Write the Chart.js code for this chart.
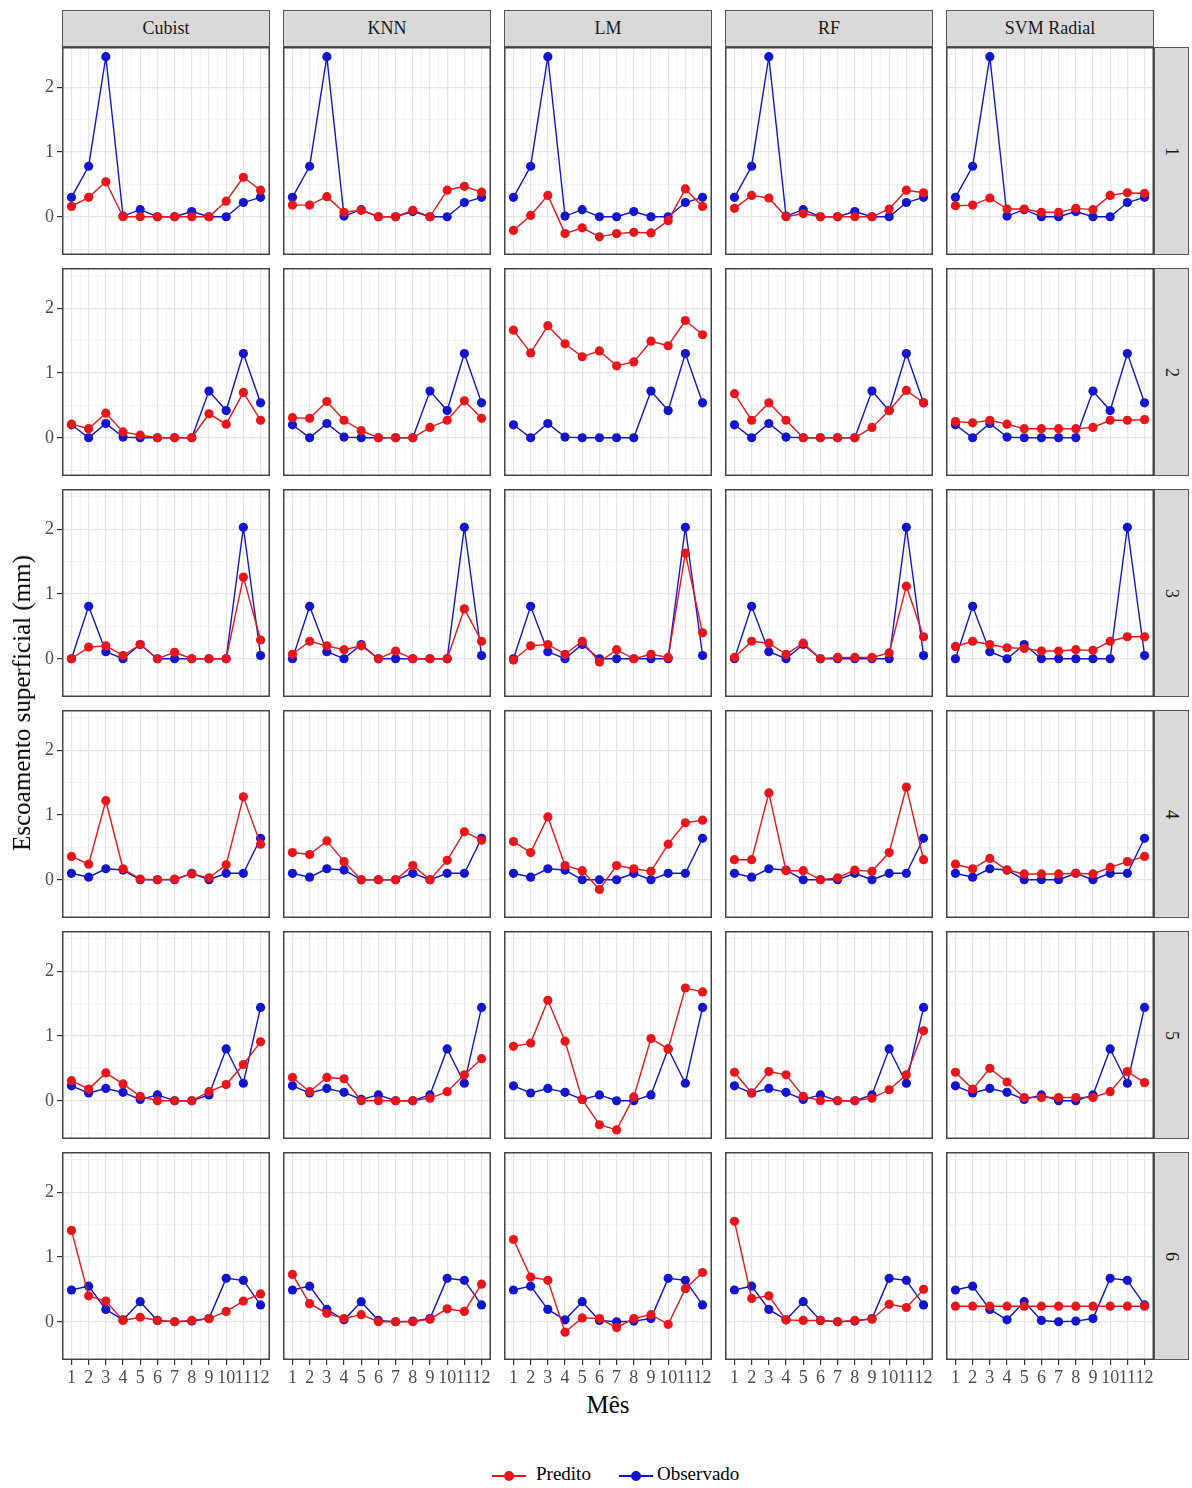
<!DOCTYPE html>
<html><head><meta charset="utf-8">
<script src="https://cdn.jsdelivr.net/npm/chart.js@4.4.1/dist/chart.umd.min.js"></script>
<style>
body{margin:0;background:#fff;width:1192px;height:1488px;position:relative;overflow:hidden;font-family:"Liberation Serif","DejaVu Serif",serif;color:#000;}
.wrap{position:absolute;}
.strip{position:absolute;background:#d9d9d9;border:1px solid #555;box-sizing:border-box;display:flex;align-items:center;justify-content:center;font-size:18px;color:#1a1a1a;}
.vt{writing-mode:vertical-rl;}
.title{position:absolute;font-size:25px;white-space:nowrap;}
.legtxt{position:absolute;font-size:19px;white-space:nowrap;top:1463px;}
.key{position:absolute;width:34px;height:20px;top:1466px;}
.key .ln{position:absolute;left:0;right:0;top:9px;height:1.5px;}
.key .dt{position:absolute;left:12px;top:5px;width:10px;height:10px;border-radius:50%;}
</style>
</head><body>
<script>
// ---------- data ----------
const months = [1,2,3,4,5,6,7,8,9,10,11,12];
const models = ["Cubist","KNN","LM","RF","SVM Radial"];
const rowLabels = ["1","2","3","4","5","6"];
const seriesNames = ["Predito","Observado"];
const yMajorTicks = [0,1,2];

// observed runoff per row (same in every model column)
const obs1 = [0.30,0.78,2.47,0.01,0.11,0,0,0.08,0,0,0.22,0.30];
const obs2 = [0.20,0,0.22,0.01,0,0,0,0,0.72,0.42,1.30,0.54];
const obs3 = [0,0.81,0.11,0,0.22,0,0,0,0,0,2.03,0.05];
const obs4 = [0.10,0.04,0.17,0.15,0,0,0,0.10,0,0.10,0.10,0.64];
const obs5 = [0.23,0.12,0.19,0.13,0.02,0.09,0,0,0.09,0.80,0.27,1.44];
const obs6 = [0.49,0.55,0.19,0.03,0.31,0.02,0,0.01,0.05,0.67,0.64,0.26];

// predicted, one array per row
const predCubist = [
  [0.16,0.30,0.54,0,0,0,0,0,0,0.24,0.61,0.41],
  [0.21,0.14,0.38,0.09,0.04,0,0,0,0.37,0.21,0.70,0.27],
  [0,0.18,0.20,0.05,0.22,0,0.10,0,0,0,1.26,0.29],
  [0.36,0.24,1.22,0.17,0.01,0,0.01,0.09,0.03,0.23,1.28,0.55],
  [0.31,0.18,0.43,0.26,0.07,0,0,0,0.14,0.25,0.56,0.91],
  [1.41,0.40,0.32,0.02,0.07,0.02,0,0.02,0.05,0.16,0.32,0.43]
];
const predKNN = [
  [0.18,0.18,0.31,0.07,0.10,0,0,0.10,0,0.41,0.47,0.38],
  [0.31,0.30,0.56,0.27,0.11,0,0,0,0.16,0.27,0.57,0.30],
  [0.07,0.27,0.20,0.14,0.20,0,0.12,0,0,0,0.77,0.27],
  [0.42,0.39,0.60,0.28,0,0,0,0.22,0,0.30,0.74,0.61],
  [0.36,0.14,0.36,0.34,0,0,0,0,0.04,0.14,0.40,0.65],
  [0.73,0.28,0.13,0.05,0.11,0,0,0,0.04,0.20,0.16,0.58]
];
const predLM = [
  [-0.21,0.02,0.33,-0.26,-0.17,-0.31,-0.26,-0.24,-0.25,-0.06,0.43,0.16],
  [1.66,1.31,1.73,1.45,1.25,1.34,1.11,1.17,1.49,1.42,1.81,1.59],
  [-0.02,0.20,0.22,0.07,0.27,-0.05,0.14,0,0.07,0.02,1.63,0.40],
  [0.59,0.42,0.97,0.22,0.14,-0.15,0.22,0.17,0.13,0.55,0.88,0.92],
  [0.84,0.89,1.55,0.92,0.02,-0.37,-0.45,0.06,0.96,0.80,1.74,1.68],
  [1.27,0.69,0.64,-0.16,0.06,0.05,-0.09,0.05,0.11,-0.04,0.51,0.76]
];
const predRF = [
  [0.13,0.33,0.29,0,0.05,0,0,0,0,0.12,0.41,0.37],
  [0.68,0.27,0.54,0.27,0,0,0,0,0.16,0.42,0.73,0.54],
  [0.02,0.27,0.24,0.07,0.24,0,0.02,0.02,0.02,0.09,1.12,0.34],
  [0.31,0.31,1.34,0.14,0.14,0,0.03,0.15,0.13,0.42,1.43,0.31],
  [0.44,0.12,0.45,0.40,0.07,0,0,0,0.04,0.17,0.40,1.08],
  [1.55,0.36,0.40,0.03,0.02,0.02,0,0.02,0.04,0.27,0.22,0.50]
];
const predSVM = [
  [0.17,0.18,0.29,0.12,0.12,0.07,0.07,0.13,0.11,0.33,0.37,0.36],
  [0.25,0.23,0.27,0.21,0.14,0.14,0.14,0.14,0.16,0.27,0.27,0.28],
  [0.19,0.27,0.22,0.17,0.16,0.12,0.12,0.14,0.13,0.27,0.34,0.34],
  [0.24,0.17,0.33,0.15,0.09,0.09,0.09,0.10,0.09,0.19,0.28,0.36],
  [0.44,0.18,0.50,0.29,0.05,0.05,0.05,0.05,0.05,0.14,0.45,0.28],
  [0.24,0.24,0.24,0.24,0.24,0.24,0.24,0.24,0.24,0.24,0.24,0.24]
];

// ---------- layout / style ----------
const observedRows = [obs1,obs2,obs3,obs4,obs5,obs6];
const predictedByModel = [predCubist,predKNN,predLM,predRF,predSVM];
const colLefts = [62,283,504,725,946];
const rowTops = [47,268,489,710,931,1152];
const PW = 208, PH = 208;
const RED = '#e8161b', BLUE = '#1414cc';
const FONT = '"Liberation Serif","DejaVu Serif",serif';
const X_MIN = 0.45, X_MAX = 12.55, Y_MIN = -0.59, Y_MAX = 2.62;

const borderPlugin = {
  id:'pborder',
  afterDraw(chart){
    const {ctx, chartArea:a} = chart;
    ctx.save();
    ctx.strokeStyle = '#444'; ctx.lineWidth = 1.5;
    ctx.strokeRect(a.left+0.75, a.top+0.75, a.right-a.left-1.5, a.bottom-a.top-1.5);
    ctx.restore();
  }
};

function isInt(v){ return Math.abs(v - Math.round(v)) < 1e-9; }

function el(tag, cls, style, text){
  const d = document.createElement(tag);
  if (cls) d.className = cls;
  Object.assign(d.style, style||{});
  if (text !== undefined) d.textContent = text;
  document.body.appendChild(d);
  return d;
}

function makePanel(ci, ri){
  const isLeft = ci === 0, isBottom = ri === rowLabels.length-1;
  const yW = isLeft ? 40 : 0, xH = isBottom ? 30 : 0;
  const W = PW + yW, H = PH + xH;
  const wrap = el('div','wrap',{left:(colLefts[ci]-yW)+'px', top:rowTops[ri]+'px', width:W+'px', height:H+'px'});
  const cv = document.createElement('canvas');
  cv.width = W; cv.height = H; cv.style.width = W+'px'; cv.style.height = H+'px';
  wrap.appendChild(cv);
  const pred = predictedByModel[ci][ri];
  const obs = observedRows[ri];
  const xTickVals = [];
  for (let v = 0.5; v <= 12.5; v += 0.5) xTickVals.push(v);
  const yTickVals = [-0.5,0,0.5,1,1.5,2,2.5];
  const grid = {
    color: c => isInt(c.tick.value) ? '#e6e6e6' : '#efefef',
    lineWidth: c => isInt(c.tick.value) ? 1.2 : 0.7,
    tickLength: 5,
    tickWidth: 1.2,
  };
  new Chart(cv, {
    type:'line',
    data:{
      datasets:[
        {label:seriesNames[0], data: months.map((m,i)=>({x:m,y:pred[i]})), borderColor:RED, backgroundColor:RED,
         pointBackgroundColor:RED, pointBorderWidth:0, pointRadius:4.6, borderWidth:1.4, tension:0},
        {label:seriesNames[1], data: months.map((m,i)=>({x:m,y:obs[i]})), borderColor:BLUE, backgroundColor:BLUE,
         pointBackgroundColor:BLUE, pointBorderWidth:0, pointRadius:4.6, borderWidth:1.4, tension:0}
      ]
    },
    options:{
      responsive:false, animation:false, events:[],
      layout:{padding:0, autoPadding:false},
      plugins:{legend:{display:false}, tooltip:{enabled:false}, title:{display:false}},
      scales:{
        x:{type:'linear', min:X_MIN, max:X_MAX, bounds:'data',
          afterBuildTicks: s => { s.ticks = xTickVals.map(v=>({value:v})); },
          afterFit: s => { s.height = xH; s.paddingLeft = 0; s.paddingRight = 0; },
          border:{display:false},
          grid: Object.assign({}, grid, {drawTicks:isBottom, tickColor: c => isInt(c.tick.value) && c.tick.value>=1 && c.tick.value<=12 ? '#333' : 'rgba(0,0,0,0)'}),
          ticks:{display:isBottom, autoSkip:false, maxRotation:0, minRotation:0, padding:2, color:'#4d4d4d',
            font:{family:FONT, size:18},
            callback: v => (isInt(v) && v>=1 && v<=12) ? String(Math.round(v)) : ''}
        },
        y:{type:'linear', min:Y_MIN, max:Y_MAX, bounds:'data',
          afterBuildTicks: s => { s.ticks = yTickVals.map(v=>({value:v})); },
          afterFit: s => { s.width = yW; s.paddingTop = 0; s.paddingBottom = 0; },
          border:{display:false},
          grid: Object.assign({}, grid, {drawTicks:isLeft, tickColor: c => yMajorTicks.includes(c.tick.value) ? '#333' : 'rgba(0,0,0,0)'}),
          ticks:{display:isLeft, autoSkip:false, padding:3, color:'#4d4d4d',
            font:{family:FONT, size:18},
            callback: v => yMajorTicks.includes(v) ? String(v) : ''}
        }
      }
    },
    plugins:[borderPlugin]
  });
}

// strips
models.forEach((m,ci)=>{
  el('div','strip',{left:colLefts[ci]+'px', top:'10px', width:PW+'px', height:'37px'}, m);
});
rowLabels.forEach((r,ri)=>{
  const s = el('div','strip',{left:(colLefts[4]+PW)+'px', top:rowTops[ri]+'px', width:'35px', height:PH+'px'});
  const t = document.createElement('span'); t.className='vt'; t.textContent = r; s.appendChild(t);
});

for (let ri=0; ri<rowLabels.length; ri++) for (let ci=0; ci<models.length; ci++) makePanel(ci, ri);

// axis titles
el('div','title',{left:'22px', top:'703px', transform:'translate(-50%,-50%) rotate(-90deg)'}, 'Escoamento superficial (mm)');
el('div','title',{left:'608px', top:'1405px', transform:'translate(-50%,-50%)'}, 'Mês');

// legend
function key(left, color){
  const k = el('div','key',{left:left+'px'});
  const ln = document.createElement('div'); ln.className='ln'; ln.style.background=color; k.appendChild(ln);
  const dt = document.createElement('div'); dt.className='dt'; dt.style.background=color; k.appendChild(dt);
}
key(492, RED);
el('div','legtxt',{left:'536px'}, seriesNames[0]);
key(619, BLUE);
el('div','legtxt',{left:'657px'}, seriesNames[1]);
</script>
</body></html>
